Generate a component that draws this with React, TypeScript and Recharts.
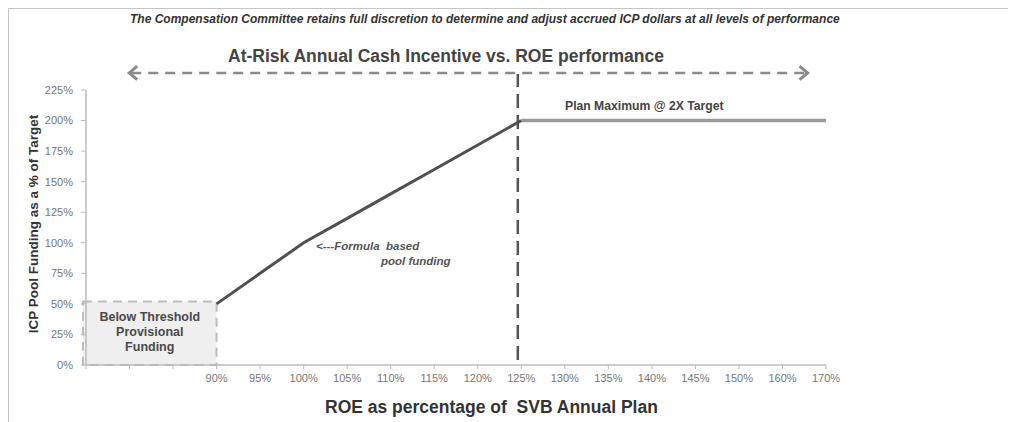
import React from 'react';
import {
  LineChart,
  Line,
  XAxis,
  YAxis,
  ReferenceArea,
  ReferenceLine,
} from 'recharts';

// x positions are evenly spaced slots; the first three are unlabeled
const xLabels = ['', '', '', '90%', '95%', '100%', '105%', '110%', '115%', '120%', '125%', '130%', '135%', '140%', '145%', '150%', '160%', '170%'];
const formulaFunding = [null, null, null, 50, 75, 100, 120, 140, 160, 180, 200, null, null, null, null, null, null, null];
const maxFunding = [null, null, null, null, null, null, null, null, null, null, 200, 200, 200, 200, 200, 200, 200, 200];
const yTicks = [0, 25, 50, 75, 100, 125, 150, 175, 200, 225];

const thresholdLabel = ['Below Threshold', 'Provisional', 'Funding'];

const data = xLabels.map((label, i) => ({
  idx: i,
  label,
  formula: formulaFunding[i],
  max: maxFunding[i],
}));

const FONT = '"Liberation Sans", Arial, sans-serif';

const ArrowShape = (props: any) => {
  const { x1, y1, x2, y2 } = props;
  const c = '#8a8a8a';
  const h = 9;
  return (
    <g>
      <line x1={x1 + 3} y1={y1} x2={x2 - 3} y2={y2} stroke={c} strokeWidth={2.5} strokeDasharray="10 7" />
      <polyline points={`${x1 + h},${y1 - h * 0.75} ${x1 + 1},${y1} ${x1 + h},${y1 + h * 0.75}`} fill="none" stroke={c} strokeWidth={3} />
      <polyline points={`${x2 - h},${y2 - h * 0.75} ${x2 - 1},${y2} ${x2 - h},${y2 + h * 0.75}`} fill="none" stroke={c} strokeWidth={3} />
    </g>
  );
};

const ThresholdLabel = (props: any) => {
  const { viewBox } = props;
  const cx = viewBox.x + viewBox.width / 2;
  const top = viewBox.y + 20;
  return (
    <text x={cx} y={top} textAnchor="middle" fontFamily={FONT} fontSize={12.5} fontWeight="bold" fill="#4a4a4a">
      {thresholdLabel.map((t, i) => (
        <tspan key={t} x={cx} dy={i === 0 ? 0 : 15}>
          {t}
        </tspan>
      ))}
    </text>
  );
};

export default function App() {
  return (
    <div
      style={{
        position: 'relative',
        width: 1002,
        height: 414,
        boxSizing: 'border-box',
        borderTop: '1px solid #c4c4c4',
        borderLeft: '1px solid #c4c4c4',
        borderRight: '1px solid #c4c4c4',
        fontFamily: FONT,
        background: '#fff',
      }}
    >
      <div style={{ position: 'absolute', left: 121, top: 3, fontSize: 12, fontWeight: 'bold', fontStyle: 'italic', color: '#333', whiteSpace: 'nowrap' }}>
        The Compensation Committee retains full discretion to determine and adjust accrued ICP dollars at all levels of performance
      </div>
      <div style={{ position: 'absolute', left: 219, top: 37, fontSize: 17.5, fontWeight: 'bold', color: '#444', whiteSpace: 'nowrap' }}>
        At-Risk Annual Cash Incentive vs. ROE performance
      </div>
      <div style={{ position: 'absolute', left: 316, top: 388, fontSize: 17.5, fontWeight: 'bold', color: '#333', whiteSpace: 'pre' }}>
        ROE as percentage of  SVB Annual Plan
      </div>
      <div
        style={{
          position: 'absolute',
          left: 24,
          top: 215,
          transform: 'translate(-50%, -50%) rotate(-90deg)',
          fontSize: 13.5,
          fontWeight: 'bold',
          color: '#333',
          whiteSpace: 'nowrap',
        }}
      >
        ICP Pool Funding as a % of Target
      </div>
      <div style={{ position: 'absolute', left: 556, top: 90, fontSize: 12.2, fontWeight: 'bold', color: '#444', whiteSpace: 'nowrap' }}>
        Plan Maximum @ 2X Target
      </div>
      <div style={{ position: 'absolute', left: 307, top: 230, fontSize: 11.5, fontWeight: 'bold', fontStyle: 'italic', color: '#555', whiteSpace: 'pre', lineHeight: '15px' }}>
        {'<---Formula  based'}
        <br />
        <span style={{ paddingLeft: 65 }}>pool funding</span>
      </div>
      <LineChart width={1000} height={413} data={data} margin={{ top: 81, right: 183, bottom: 20, left: 0 }}>
        <ReferenceArea
          x1={-0.07}
          x2={3}
          y1={0}
          y2={52}
          fill="#efefef"
          fillOpacity={1}
          stroke="#bdbdbd"
          strokeWidth={2}
          strokeDasharray="9 6"
          ifOverflow="visible"
          label={<ThresholdLabel />}
        />
        <XAxis
          type="number"
          dataKey="idx"
          domain={[0, 17]}
          ticks={xLabels.map((_, i) => i)}
          interval={0}
          tickFormatter={(i: number) => xLabels[i]}
          tick={{ fill: '#777', fontSize: 11, fontFamily: FONT }}
          tickLine={{ stroke: '#bbb' }}
          axisLine={{ stroke: '#bbb', strokeWidth: 1.5 }}
          tickSize={4}
          tickMargin={5}
          height={37}
        />
        <YAxis
          domain={[0, 225]}
          ticks={yTicks}
          interval={0}
          tickFormatter={(v: number) => `${v}%`}
          tick={{ fill: '#777', fontSize: 11, fontFamily: FONT }}
          tickLine={{ stroke: '#bbb' }}
          axisLine={{ stroke: '#bbb', strokeWidth: 1.5 }}
          tickSize={5}
          tickMargin={8}
          width={77}
        />
        <ReferenceLine
          segment={[{ x: 9.92, y: 4 }, { x: 9.92, y: 238 }]}
          stroke="#555"
          strokeWidth={2.5}
          strokeDasharray="14 7"
          ifOverflow="visible"
        />
        <ReferenceLine
          segment={[{ x: 0.97, y: 239 }, { x: 16.6, y: 239 }]}
          ifOverflow="visible"
          shape={ArrowShape}
        />
        <Line
          type="linear"
          dataKey="max"
          stroke="#9a9a9a"
          strokeWidth={3.5}
          dot={false}
          isAnimationActive={false}
        />
        <Line
          type="linear"
          dataKey="formula"
          stroke="#505050"
          strokeWidth={3}
          dot={false}
          isAnimationActive={false}
        />
      </LineChart>
    </div>
  );
}
